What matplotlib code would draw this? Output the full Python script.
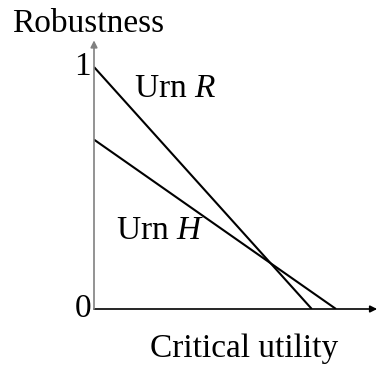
import matplotlib
matplotlib.use("Agg")
import matplotlib.pyplot as plt

# robustness curves: (critical utility, robustness) end points
urn_r_x = [0.0, 0.9]
urn_r_y = [1.0, 0.0]
urn_h_x = [0.0, 1.0]
urn_h_y = [0.7, 0.0]
y_ticks = [0, 1]
y_tick_labels = ["0", "1"]

plt.rcParams["font.family"] = "Liberation Serif"
plt.rcParams["mathtext.fontset"] = "custom"
plt.rcParams["mathtext.rm"] = "Liberation Serif"
plt.rcParams["mathtext.it"] = "Liberation Serif:italic"

W, H = 377, 366
fig = plt.figure(figsize=(W / 100, H / 100), dpi=100)
# origin sits at pixel (94, 309), 242 px per unit
ax = fig.add_axes([94 / W, 57 / H, (W - 94) / W, 309 / H])
ax.set_xlim(0, (W - 94) / 242)
ax.set_ylim(0, 309 / 242)
ax.axis("off")

fs = 24
# axes with arrowheads
ax.annotate("", xy=(1.17, 0), xytext=(0, 0),
            arrowprops=dict(arrowstyle="-|>", color="black", lw=1.2,
                            mutation_scale=10, shrinkA=0, shrinkB=0),
            annotation_clip=False)
ax.annotate("", xy=(0, 1.11), xytext=(0, 0),
            arrowprops=dict(arrowstyle="-|>", color="#808080", lw=1.2,
                            mutation_scale=10, shrinkA=0, shrinkB=0),
            annotation_clip=False)

ax.plot(urn_r_x, urn_r_y, color="black", lw=1.5, solid_capstyle="butt")
ax.plot(urn_h_x, urn_h_y, color="black", lw=1.5, solid_capstyle="butt")

for t, lab in zip(y_ticks, y_tick_labels):
    ax.text(-0.012, t, lab, fontsize=fs, ha="right", va="center")

ax.text(0.165, 0.91, r"Urn $R$", fontsize=fs, ha="left", va="center")
ax.text(0.09, 0.325, r"Urn $H$", fontsize=fs, ha="left", va="center")
ax.text(0.62, -0.165, "Critical utility", fontsize=fs, ha="center", va="center",
        clip_on=False)
ax.text(-0.34, 1.18, "Robustness", fontsize=fs, ha="left", va="center",
        clip_on=False)

fig.savefig("out.png", dpi=100)
